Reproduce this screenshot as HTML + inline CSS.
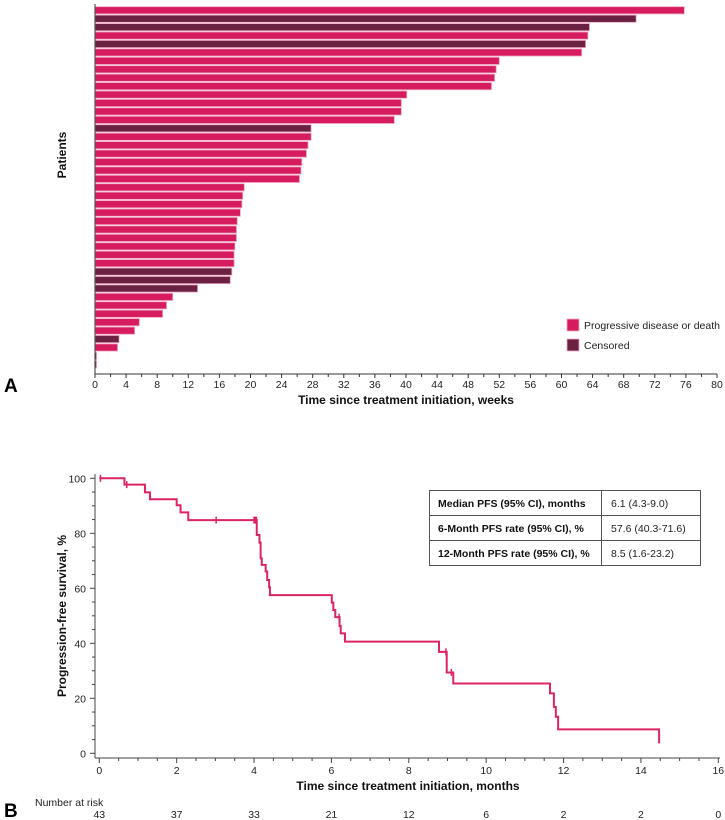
<!DOCTYPE html>
<html><head><meta charset="utf-8"><style>
html,body{margin:0;padding:0;background:#fff;}
svg{display:block;font-family:"Liberation Sans",Arial,sans-serif;}
</style></head><body>
<svg id="fig" width="725" height="820" viewBox="0 0 725 820" xmlns="http://www.w3.org/2000/svg">
<g id="panelA"></g>
<g id="panelB"></g>
</svg>
<script>
// ---------- Panel A data ----------
const patientWeeks = [75.8,69.6,63.6,63.4,63.1,62.6,52.0,51.6,51.4,51.0,40.1,39.4,39.4,38.5,27.8,27.8,27.4,27.2,26.6,26.5,26.3,19.2,19.0,18.9,18.7,18.3,18.2,18.2,18.0,17.9,17.9,17.6,17.4,13.2,10.0,9.2,8.7,5.7,5.1,3.1,2.9,0.2,0.2];
const patientStatus = ['P','C','C','P','C','P','P','P','P','P','P','P','P','P','C','P','P','P','P','P','P','P','P','P','P','P','P','P','P','P','P','C','C','C','P','P','P','P','P','C','P','C','C'];
const weekTicks = [0,4,8,12,16,20,24,28,32,36,40,44,48,52,56,60,64,68,72,76,80];

// ---------- Panel B data ----------
const kmTimes =    [0,0.65,1.18,1.31,2.0,2.1,2.3,4.07,4.14,4.17,4.2,4.3,4.34,4.39,4.41,6.01,6.05,6.1,6.21,6.24,6.35,8.78,8.98,9.15,11.65,11.75,11.8,11.86,14.47];
const kmSurvival = [100,97.7,94.9,92.4,90.2,87.6,84.8,79.4,76.6,70.9,68.5,66.1,63.0,60.4,57.5,54.8,52.1,49.5,46.3,43.6,40.6,36.9,29.4,25.4,21.8,16.9,13.3,8.7,3.6];
const censorTimes = [0.03,0.71,3.02,4.0,4.03,4.06,6.2,8.96,9.1];
const monthTicks = [0,2,4,6,8,10,12,14,16];
const survTicks = [0,20,40,60,80,100];
const atRisk = [43,37,33,21,12,6,2,2,0];

const NS='http://www.w3.org/2000/svg';
function mk(tag,attrs,parent,text){const e=document.createElementNS(NS,tag);for(const k in attrs)e.setAttribute(k,attrs[k]);if(text!==undefined)e.textContent=text;parent.appendChild(e);return e;}

// ---------- Panel A ----------
const A=document.getElementById('panelA');
const ax0=95, ax1=717, aMax=80, ay0=10.3, aPitch=8.43, aAxisY=374;
const xA=w=>ax0+(w/aMax)*(ax1-ax0);
const yA=i=>ay0+i*aPitch;
patientWeeks.forEach((w,i)=>{
  const r=mk('rect',{x:ax0,y:yA(i)-3.6,width:Math.max(0.8,xA(w)-ax0),height:7.2,fill:patientStatus[i]==='C'?'#6a2142':'#d61c5e',stroke:'#f0a8c4','stroke-width':0.8},A);
  
  
});
let l=mk('line',{x1:ax0,y1:4,x2:ax0,y2:aAxisY,stroke:'#555','stroke-width':1.2},A);

l=mk('line',{x1:ax0,y1:aAxisY,x2:ax1,y2:aAxisY,stroke:'#333','stroke-width':1},A);

for(let w=0;w<=aMax;w+=2){mk('line',{x1:xA(w),y1:aAxisY,x2:xA(w),y2:aAxisY+(w%4===0?4:3),stroke:'#333','stroke-width':1},A);}
weekTicks.forEach(w=>{
  const t=mk('text',{x:xA(w),y:388,'font-size':10.5,'text-anchor':'middle',fill:'#222'},A,String(w));
  
});
let t=mk('text',{x:406,y:404,'font-size':12,'font-weight':'bold','text-anchor':'middle',fill:'#111'},A,'Time since treatment initiation, weeks');

t=mk('text',{x:66,y:155,'font-size':12,'font-weight':'bold','text-anchor':'middle',fill:'#111',transform:'rotate(-90 66 155)'},A,'Patients');

t=mk('text',{x:4,y:392,'font-size':19,'font-weight':'bold',fill:'#000'},A,'A');

[['Progressive disease or death','#d61c5e',319],['Censored','#6a2142',339]].forEach(([lab,c,y],k)=>{
  const g=mk('g',{},A);
  
  
  mk('rect',{x:567,y:y,width:12,height:12,fill:c,stroke:'#f0a8c4','stroke-width':0.8},g);
  mk('text',{x:584,y:y+10,'font-size':10.5,fill:'#222'},g,lab);
});

// ---------- Panel B ----------
const B=document.getElementById('panelB');
const bx0=99.3, bx1=718.3, bMax=16, by0=753.3, by100=478.3;
const xB=m=>bx0+(m/bMax)*(bx1-bx0);
const yB=s=>by0-(s/100)*(by0-by100);
l=mk('line',{x1:95,y1:474,x2:95,y2:758,stroke:'#444','stroke-width':1},B);

l=mk('line',{x1:95,y1:758,x2:720,y2:758,stroke:'#444','stroke-width':1},B);

for(let s=0;s<=100;s+=5){mk('line',{x1:95,y1:yB(s),x2:s%20===0?90:92,y2:yB(s),stroke:'#444','stroke-width':1},B);}
for(let m=0;m<=16;m+=0.5){mk('line',{x1:xB(m),y1:758,x2:xB(m),y2:m%2===0?763:761,stroke:'#444','stroke-width':1},B);}
survTicks.forEach(s=>{
  const tt=mk('text',{x:86,y:yB(s)+4,'font-size':10.5,'text-anchor':'end',fill:'#222'},B,String(s));
  
});
monthTicks.forEach(m=>{
  const tt=mk('text',{x:xB(m),y:774,'font-size':10.5,'text-anchor':'middle',fill:'#222'},B,String(m));
  
});
// KM step path
let d='M'+xB(kmTimes[0])+','+yB(kmSurvival[0]);
for(let i=1;i<kmTimes.length;i++){d+=' H'+xB(kmTimes[i])+' V'+yB(kmSurvival[i]);}
const p=mk('path',{d:d,fill:'none',stroke:'#dc2463','stroke-width':2},B);

function survAt(tm){let s=100;for(let i=0;i<kmTimes.length;i++){if(kmTimes[i]<=tm)s=kmSurvival[i];}return s;}
censorTimes.forEach(c=>{
  const cm=mk('line',{x1:xB(c),y1:yB(survAt(c))-3.5,x2:xB(c),y2:yB(survAt(c))+3.5,stroke:'#dc2463','stroke-width':1.5},B);
  
});
t=mk('text',{x:408,y:790,'font-size':12,'font-weight':'bold','text-anchor':'middle',fill:'#111'},B,'Time since treatment initiation, months');

t=mk('text',{x:66,y:616,'font-size':12,'font-weight':'bold','text-anchor':'middle',fill:'#111',transform:'rotate(-90 66 616)'},B,'Progression-free survival, %');

t=mk('text',{x:4,y:817,'font-size':19,'font-weight':'bold',fill:'#000'},B,'B');

t=mk('text',{x:35,y:806,'font-size':10.5,fill:'#222'},B,'Number at risk');

atRisk.forEach((n,i)=>{
  const tt=mk('text',{x:xB(monthTicks[i]),y:818,'font-size':10.5,'text-anchor':'middle',fill:'#222'},B,String(n));
  
});
// table
const tbl=mk('g',{},B);


mk('rect',{x:429.5,y:490.5,width:271,height:75,fill:'#fff',stroke:'#555','stroke-width':1},tbl);
mk('line',{x1:429.5,y1:515.5,x2:700.5,y2:515.5,stroke:'#555'},tbl);
mk('line',{x1:429.5,y1:540.5,x2:700.5,y2:540.5,stroke:'#555'},tbl);
mk('line',{x1:601.5,y1:490.5,x2:601.5,y2:565.5,stroke:'#555'},tbl);
[['Median PFS (95% CI), months','6.1 (4.3-9.0)'],['6-Month PFS rate (95% CI), %','57.6 (40.3-71.6)'],['12-Month PFS rate (95% CI), %','8.5 (1.6-23.2)']].forEach(([a,b],i)=>{
  mk('text',{x:438,y:507+i*25,'font-size':10.5,'font-weight':'bold',fill:'#111'},tbl,a);
  mk('text',{x:611,y:507+i*25,'font-size':10.5,fill:'#222'},tbl,b);
});
</script>
</body></html>
